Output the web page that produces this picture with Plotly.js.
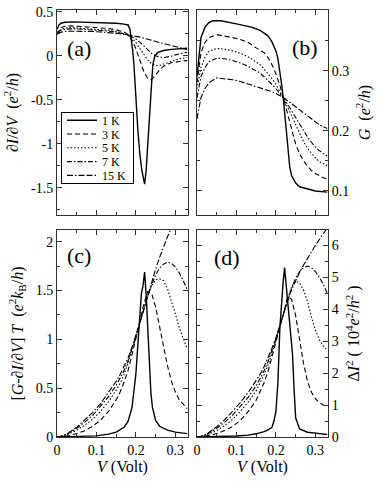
<!DOCTYPE html>
<html>
<head>
<meta charset="utf-8">
<script src="https://cdn.plot.ly/plotly-3.0.1.min.js"></script>
<style>
  body { margin: 0; background: white; }
  #plot { width: 382px; height: 494px; }
</style>
</head>
<body>
<div id="plot"></div>
<script>
// temperatures and line styles, one per curve
const temps = ['1 K', '3 K', '5 K', '7 K', '15 K'];
const dashes = ['solid', '5px,3px', '1.5px,2px', '5px,2px,1.5px,2px', '6px,2px,1.5px,2px,6px,2px'];

// common bias grid (Volt) for the smooth curves
const vGrid = [0, 0.005, 0.01, 0.02, 0.03, 0.05, 0.07, 0.09, 0.11, 0.13, 0.15, 0.16, 0.17, 0.18, 0.19,
  0.2, 0.21, 0.22, 0.23, 0.24, 0.25, 0.26, 0.27, 0.28, 0.29, 0.3, 0.31, 0.32, 0.33];

// finer grids for the sharp 1 K curves
const vSharpA = [0, 0.005, 0.01, 0.02, 0.04, 0.08, 0.12, 0.15, 0.17, 0.18, 0.185, 0.188, 0.192, 0.195, 0.2,
  0.205, 0.21, 0.215, 0.222, 0.226, 0.229, 0.233, 0.236, 0.24, 0.243, 0.248, 0.255, 0.27, 0.29, 0.31, 0.33];
const vSharpB = [0, 0.005, 0.01, 0.02, 0.03, 0.04, 0.06, 0.1, 0.14, 0.16, 0.18, 0.19, 0.2, 0.205, 0.21,
  0.215, 0.22, 0.225, 0.23, 0.235, 0.24, 0.25, 0.26, 0.28, 0.3, 0.33];
const vSharpC = [0, 0.05, 0.1, 0.13, 0.15, 0.17, 0.18, 0.19, 0.195, 0.2, 0.205, 0.21, 0.214, 0.218, 0.222,
  0.226, 0.23, 0.234, 0.238, 0.242, 0.246, 0.25, 0.26, 0.28, 0.3, 0.33];

// (a) dI/dV  (e^2/h)
const dIdV1 = [0.30, 0.35, 0.37, 0.38, 0.385, 0.382, 0.378, 0.37, 0.36, 0.35, 0.3, 0.21, 0.05, -0.1, -0.55,
  -0.85, -1.12, -1.3, -1.46, -1.3, -1.08, -0.75, -0.51, -0.3, -0.1, 0.0, 0.035, 0.06, 0.072, 0.08, 0.085];
const dIdV3 = [0.24, 0.29, 0.32, 0.335, 0.34, 0.335, 0.33, 0.325, 0.32, 0.31, 0.295, 0.285, 0.27, 0.24, 0.18,
  0.08, -0.06, -0.18, -0.26, -0.27, -0.22, -0.16, -0.12, -0.095, -0.08, -0.07, -0.063, -0.058, -0.055];
const dIdV5 = [0.26, 0.28, 0.30, 0.315, 0.32, 0.315, 0.31, 0.305, 0.3, 0.29, 0.275, 0.265, 0.25, 0.23, 0.2,
  0.15, 0.08, 0.01, -0.05, -0.09, -0.11, -0.11, -0.095, -0.075, -0.06, -0.045, -0.035, -0.027, -0.02];
const dIdV7 = [0.27, 0.28, 0.29, 0.30, 0.305, 0.305, 0.30, 0.295, 0.29, 0.28, 0.27, 0.26, 0.25, 0.235, 0.215,
  0.19, 0.155, 0.11, 0.065, 0.025, 0.0, -0.015, -0.02, -0.015, -0.005, 0.01, 0.02, 0.03, 0.04];
const dIdV15 = [0.26, 0.265, 0.27, 0.275, 0.28, 0.28, 0.278, 0.275, 0.27, 0.265, 0.255, 0.25, 0.245, 0.238, 0.23,
  0.222, 0.212, 0.2, 0.19, 0.175, 0.163, 0.15, 0.138, 0.125, 0.112, 0.1, 0.09, 0.08, 0.07];

// (b) G  (e^2/h)
const g1 = [0.29, 0.33, 0.355, 0.372, 0.38, 0.383, 0.383, 0.378, 0.372, 0.367, 0.358, 0.348, 0.333, 0.32, 0.3,
  0.275, 0.245, 0.205, 0.17, 0.14, 0.125, 0.113, 0.107, 0.103, 0.1, 0.098];
const g3 = [0.28, 0.31, 0.33, 0.347, 0.355, 0.36, 0.358, 0.355, 0.352, 0.347, 0.338, 0.334, 0.33, 0.322, 0.31,
  0.295, 0.276, 0.252, 0.226, 0.2, 0.178, 0.162, 0.15, 0.141, 0.134, 0.129, 0.125, 0.122, 0.12];
const g5 = [0.27, 0.29, 0.305, 0.322, 0.332, 0.337, 0.336, 0.333, 0.329, 0.323, 0.315, 0.31, 0.303, 0.295, 0.287,
  0.277, 0.266, 0.253, 0.239, 0.224, 0.209, 0.195, 0.182, 0.171, 0.162, 0.155, 0.149, 0.145, 0.142];
const g7 = [0.255, 0.275, 0.29, 0.305, 0.315, 0.321, 0.32, 0.317, 0.313, 0.307, 0.3, 0.296, 0.29, 0.284, 0.277,
  0.27, 0.262, 0.254, 0.244, 0.233, 0.222, 0.211, 0.2, 0.19, 0.181, 0.173, 0.167, 0.162, 0.158];
const g15 = [0.22, 0.24, 0.255, 0.27, 0.28, 0.288, 0.287, 0.285, 0.282, 0.278, 0.274, 0.272, 0.27, 0.268, 0.265,
  0.262, 0.259, 0.255, 0.25, 0.245, 0.24, 0.234, 0.229, 0.224, 0.219, 0.214, 0.21, 0.207, 0.204];

// (c) [G - dI/dV] T  (e^2 kB/h)
const c1 = [0, 0.003, 0.012, 0.03, 0.05, 0.1, 0.16, 0.3, 0.45, 0.65, 0.95, 1.3, 1.47, 1.55, 1.69,
  1.45, 1.1, 0.75, 0.45, 0.3, 0.22, 0.17, 0.11, 0.07, 0.05, 0.035];
const c3 = [0, 0.001, 0.003, 0.008, 0.015, 0.035, 0.065, 0.11, 0.17, 0.26, 0.38, 0.46, 0.56, 0.68, 0.84,
  1.02, 1.2, 1.36, 1.49, 1.47, 1.33, 1.12, 0.92, 0.73, 0.57, 0.46, 0.38, 0.33, 0.29];
const c5 = [0, 0.002, 0.005, 0.015, 0.03, 0.07, 0.12, 0.18, 0.26, 0.36, 0.48, 0.55, 0.64, 0.75, 0.88,
  1.02, 1.17, 1.32, 1.45, 1.55, 1.61, 1.62, 1.6, 1.52, 1.4, 1.26, 1.12, 1.0, 0.9];
const c7 = [0, 0.003, 0.007, 0.02, 0.04, 0.09, 0.15, 0.22, 0.31, 0.41, 0.53, 0.6, 0.68, 0.78, 0.9,
  1.03, 1.17, 1.31, 1.44, 1.56, 1.66, 1.73, 1.77, 1.79, 1.78, 1.74, 1.68, 1.6, 1.51];
const c15 = [0, 0.003, 0.008, 0.022, 0.045, 0.1, 0.17, 0.25, 0.34, 0.45, 0.57, 0.64, 0.72, 0.81, 0.92,
  1.04, 1.17, 1.31, 1.45, 1.59, 1.72, 1.84, 1.95, 2.05, 2.14, 2.23, 2.3, 2.37, 2.42];

// (d) Delta I^2  (10^4 e^2/h^2)
const d1 = [0, 0.01, 0.03, 0.06, 0.1, 0.17, 0.22, 0.3, 0.5, 0.8, 1.7, 3.4, 4.2, 4.8, 5.3,
  4.8, 4.3, 3.8, 3.3, 2.6, 1.5, 0.6, 0.25, 0.15, 0.12, 0.08];
const d3 = [0, 0.003, 0.009, 0.025, 0.05, 0.11, 0.2, 0.33, 0.52, 0.8, 1.15, 1.4, 1.7, 2.05, 2.5,
  3.0, 3.45, 3.9, 4.4, 4.3, 3.8, 3.1, 2.3, 1.75, 1.4, 1.2, 1.08, 1.0, 0.95];
const d5 = [0, 0.005, 0.015, 0.045, 0.09, 0.2, 0.36, 0.55, 0.8, 1.1, 1.45, 1.68, 1.95, 2.25, 2.62,
  3.02, 3.45, 3.9, 4.35, 4.72, 4.88, 4.82, 4.6, 4.25, 3.75, 3.35, 3.05, 2.85, 2.72];
const d7 = [0, 0.008, 0.02, 0.06, 0.12, 0.27, 0.46, 0.68, 0.95, 1.25, 1.6, 1.82, 2.07, 2.36, 2.7,
  3.07, 3.48, 3.9, 4.3, 4.66, 4.97, 5.18, 5.3, 5.35, 5.3, 5.18, 5.0, 4.78, 4.5];
const d15 = [0, 0.01, 0.025, 0.07, 0.14, 0.32, 0.54, 0.8, 1.08, 1.4, 1.75, 1.96, 2.2, 2.47, 2.78,
  3.1, 3.5, 3.9, 4.3, 4.62, 4.9, 5.15, 5.38, 5.6, 5.8, 6.0, 6.18, 6.36, 6.54];

// tick labels
const xTickVals = [0, 0.1, 0.2, 0.3];
const xTickText = ['0', '0.1', '0.2', '0.3'];
const aTickVals = [-1.5, -1, -0.5, 0, 0.5];
const aTickText = ['-1.5', '-1', '-0.5', '0', '0.5'];
const bTickVals = [0.1, 0.2, 0.3];
const bTickText = ['0.1', '0.2', '0.3'];
const cTickVals = [0, 0.5, 1, 1.5, 2];
const cTickText = ['0', '0.5', '1', '1.5', '2'];
const dTickVals = [0, 1, 2, 3, 4, 5, 6];
const dTickText = ['0', '1', '2', '3', '4', '5', '6'];

const panels = [
  { xa: 'x',  ya: 'y',  xs: [vSharpA, vGrid, vGrid, vGrid, vGrid], ys: [dIdV1, dIdV3, dIdV5, dIdV7, dIdV15] },
  { xa: 'x2', ya: 'y2', xs: [vSharpB, vGrid, vGrid, vGrid, vGrid], ys: [g1, g3, g5, g7, g15] },
  { xa: 'x3', ya: 'y3', xs: [vSharpC, vGrid, vGrid, vGrid, vGrid], ys: [c1, c3, c5, c7, c15] },
  { xa: 'x4', ya: 'y4', xs: [vSharpC, vGrid, vGrid, vGrid, vGrid], ys: [d1, d3, d5, d7, d15] }
];

let traces = [];
panels.forEach((p, pi) => {
  temps.forEach((t, i) => {
    traces.push({
      x: p.xs[i],
      y: p.ys[i],
      xaxis: p.xa,
      yaxis: p.ya,
      mode: 'lines',
      name: t,
      showlegend: pi === 0,
      line: { color: 'black', width: i === 0 ? 1.4 : 1.1, dash: dashes[i] },
      hoverinfo: 'skip'
    });
  });
});

const serif = '"Liberation Serif", "Times New Roman", serif';
const tickFont = { family: serif, size: 14, color: 'black' };
const titleFont = { family: serif, size: 16, color: 'black' };

function axisBase(extra) {
  return Object.assign({
    showline: true, linecolor: '#333', linewidth: 1, mirror: 'allticks',
    ticks: 'inside', ticklen: 5, tickcolor: '#333', tickwidth: 1,
    showgrid: false, zeroline: false, automargin: false,
    tickfont: tickFont, tickmode: 'array'
  }, extra);
}

function xAxis(domain, anchor, labels) {
  let ax = axisBase({
    domain: domain, anchor: anchor, range: [0, 0.332],
    tickvals: xTickVals, ticktext: xTickText, showticklabels: labels,
    minor: { ticks: 'inside', ticklen: 3, tick0: 0, dtick: 0.05, tickcolor: '#333' }
  });
  if (labels) ax.title = { text: '<i>V</i> (Volt)', font: titleFont, standoff: 0 };
  return ax;
}

const leftDom = [0, 0.4834];
const rightDom = [0.5166, 1];
const topDom = [0.5199, 1];
const botDom = [0, 0.4848];
const letterFont = { family: serif, size: 22, color: 'black' };

const layout = {
  width: 382, height: 494,
  margin: { l: 57, r: 54, t: 10, b: 57 },
  paper_bgcolor: 'white', plot_bgcolor: 'white',
  font: { family: serif, color: 'black' },
  showlegend: true,
  legend: {
    x: 0.0148, y: 0.7618, xanchor: 'left', yanchor: 'top',
    bordercolor: 'black', borderwidth: 1, bgcolor: 'white',
    font: { family: serif, size: 12, color: 'black' },
    tracegroupgap: 0
  },
  xaxis: xAxis(leftDom, 'y', false),
  xaxis2: xAxis(rightDom, 'y2', false),
  xaxis3: xAxis(leftDom, 'y3', true),
  xaxis4: xAxis(rightDom, 'y4', true),
  yaxis: axisBase({
    domain: topDom, anchor: 'x', range: [-1.81, 0.52],
    tickvals: aTickVals, ticktext: aTickText,
    minor: { ticks: 'inside', ticklen: 3, tick0: 0, dtick: 0.25, tickcolor: '#333' },
    title: { text: '\u2202<i>I</i>/\u2202<i>V</i>  (<i>e</i><sup>2</sup>/<i>h</i>)', font: titleFont, standoff: 8 }
  }),
  yaxis2: axisBase({
    domain: topDom, anchor: 'x2', side: 'right', range: [0.06, 0.401],
    tickvals: bTickVals, ticktext: bTickText,
    minor: { ticks: 'inside', ticklen: 3, tick0: 0, dtick: 0.05, tickcolor: '#333' },
    title: { text: '<i>G</i>  (<i>e</i><sup>2</sup>/<i>h</i>)', font: titleFont, standoff: 10 }
  }),
  yaxis3: axisBase({
    domain: botDom, anchor: 'x3', range: [0, 2.12],
    tickvals: cTickVals, ticktext: cTickText,
    minor: { ticks: 'inside', ticklen: 3, tick0: 0, dtick: 0.25, tickcolor: '#333' },
    title: { text: '[<i>G</i>-\u2202<i>I</i>/\u2202<i>V</i>] <i>T</i>  (<i>e</i><sup>2</sup><i>k</i><sub>B</sub>/<i>h</i>)', font: titleFont, standoff: 8 }
  }),
  yaxis4: axisBase({
    domain: botDom, anchor: 'x4', side: 'right', range: [0, 6.48],
    tickvals: dTickVals, ticktext: dTickText,
    minor: { ticks: 'inside', ticklen: 3, tick0: 0, dtick: 0.5, tickcolor: '#333' },
    title: { text: '\u0394<i>I</i><sup>2</sup> ( 10<sup>4</sup><i>e</i><sup>2</sup>/<i>h</i><sup>2</sup> )', font: titleFont, standoff: 10 }
  }),
  annotations: [
    { text: '(a)', xref: 'x domain', yref: 'y domain', x: 0.06, y: 0.81, xanchor: 'left', yanchor: 'middle', showarrow: false, font: letterFont },
    { text: '(b)', xref: 'x2 domain', yref: 'y2 domain', x: 0.71, y: 0.815, xanchor: 'left', yanchor: 'middle', showarrow: false, font: letterFont },
    { text: '(c)', xref: 'x3 domain', yref: 'y3 domain', x: 0.06, y: 0.879, xanchor: 'left', yanchor: 'middle', showarrow: false, font: letterFont },
    { text: '(d)', xref: 'x4 domain', yref: 'y4 domain', x: 0.115, y: 0.865, xanchor: 'left', yanchor: 'middle', showarrow: false, font: letterFont }
  ]
};

// tighten the legend rows a little (the reference packs them closer than plotly's default)
function packLegend() {
  let rowGap = 13.8;
  let items = document.querySelectorAll('#plot .legend .traces');
  items.forEach((el, i) => {
    let m = /translate\(([-\d.]+)[ ,]+([-\d.]+)\)/.exec(el.getAttribute('transform') || '');
    if (m) el.setAttribute('transform', 'translate(' + m[1] + ',' + (8.5 + i * rowGap) + ')');
  });
  let bg = document.querySelector('#plot .legend rect.bg');
  if (bg) {
    bg.setAttribute('height', 5 * rowGap + 2);
    bg.setAttribute('width', 72);
  }
}

Plotly.newPlot('plot', traces, layout, { staticPlot: true, displayModeBar: false }).then(packLegend);
</script>
</body>
</html>
